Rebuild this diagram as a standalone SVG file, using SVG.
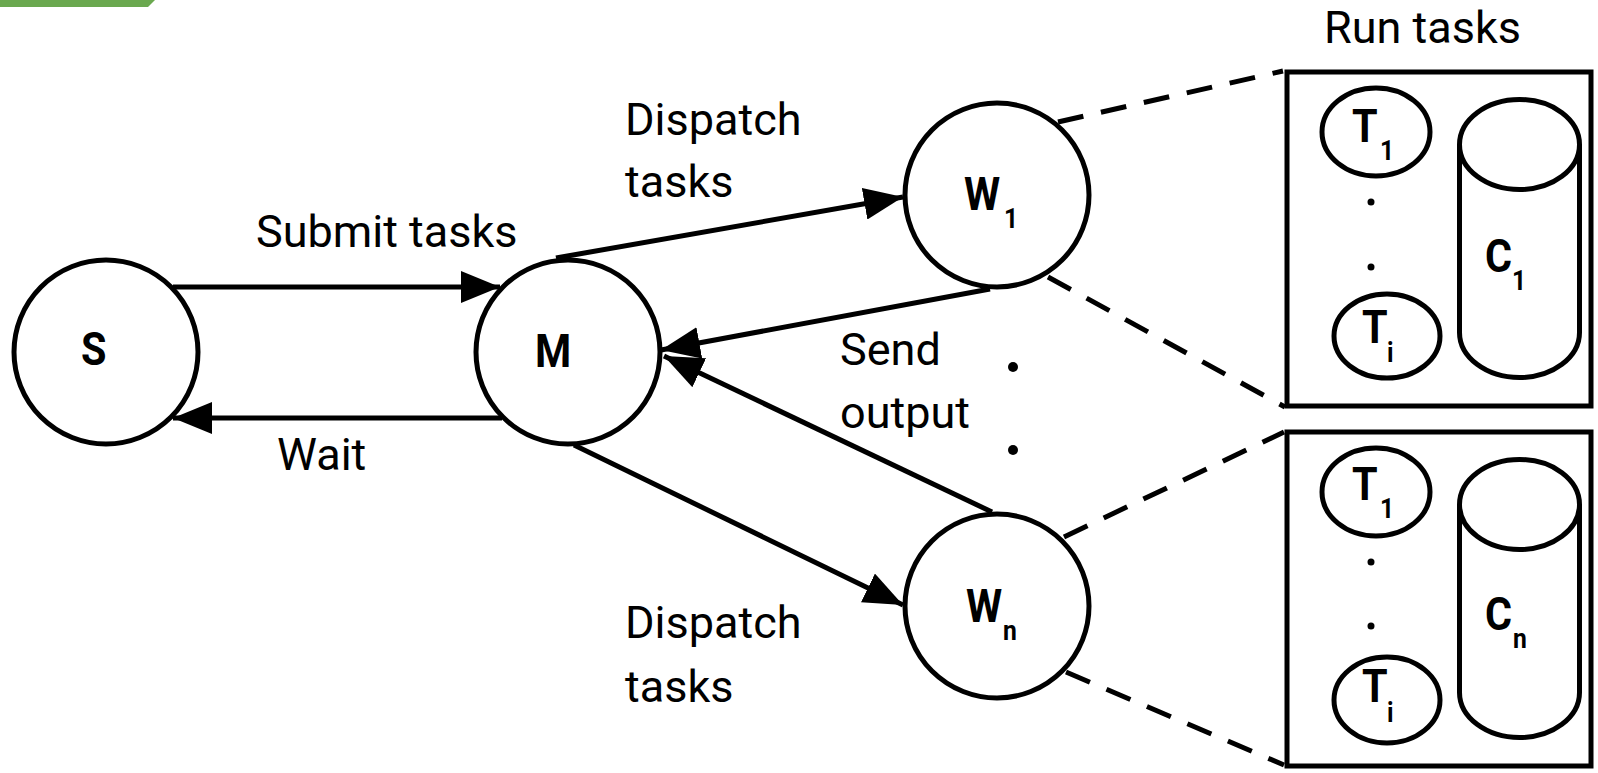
<svg xmlns="http://www.w3.org/2000/svg" width="1598" height="773" viewBox="0 0 1598 773">
<style>
.node{fill:#fff;stroke:#000;stroke-width:5}
.lbl{font-family:Roboto,"Liberation Sans",sans-serif;font-size:45px;fill:#000}
.b{font-family:Roboto,"Liberation Sans",sans-serif;font-weight:bold;font-size:47px;fill:#000}
.sub{font-size:28px}
.conn{stroke:#000;stroke-width:5;fill:none}
.dash{stroke:#000;stroke-width:5;fill:none;stroke-dasharray:26 18}
.dot{fill:#000}
</style>
<defs>
<marker id="ah" markerUnits="userSpaceOnUse" markerWidth="42" markerHeight="32" refX="39" refY="16" orient="auto" viewBox="0 0 42 32">
<path d="M0,0 L39,16 L0,32 z" fill="#000"/>
</marker>
</defs>
<rect width="1598" height="773" fill="#fff"/>
<polygon points="0,0 155,0 148,7 0,7" fill="#6aa84f"/>

<g id="connectors">
<line class="conn" x1="173" y1="287" x2="500" y2="287" marker-end="url(#ah)"/>
<line class="conn" x1="502" y1="418" x2="173" y2="418" marker-end="url(#ah)"/>
<line class="conn" x1="556" y1="258" x2="903" y2="197" marker-end="url(#ah)"/>
<line class="conn" x1="990" y1="289" x2="661" y2="350" marker-end="url(#ah)"/>
<line class="conn" x1="992" y1="512" x2="664" y2="356" marker-end="url(#ah)"/>
<line class="conn" x1="574" y1="445" x2="903" y2="605" marker-end="url(#ah)"/>
<line class="dash" x1="1058" y1="122" x2="1283" y2="71"/>
<line class="dash" x1="1048" y1="277" x2="1285" y2="407"/>
<line class="dash" x1="1064" y1="537" x2="1284" y2="432"/>
<line class="dash" x1="1066" y1="672" x2="1284" y2="765"/>
</g>

<g id="labels">
<text class="lbl" x="256" y="247">Submit tasks</text>
<text class="lbl" x="277" y="470">Wait</text>
<text class="lbl" x="625" y="135">Dispatch</text>
<text class="lbl" x="625" y="197">tasks</text>
<text class="lbl" x="840" y="365">Send</text>
<text class="lbl" x="840" y="428">output</text>
<text class="lbl" x="625" y="638">Dispatch</text>
<text class="lbl" x="625" y="702">tasks</text>
<text class="lbl" x="1324" y="43">Run tasks</text>
<circle class="dot" cx="1013" cy="367" r="5"/>
<circle class="dot" cx="1013" cy="450" r="5"/>
</g>

<g id="S">
<circle class="node" cx="106" cy="352" r="92"/>
<text class="b" transform="translate(81,365) scale(0.88,1)">S</text>
</g>
<g id="M">
<circle class="node" cx="568" cy="352" r="92"/>
<text class="b" transform="translate(535,367) scale(0.88,1)">M</text>
</g>
<g id="W1">
<circle class="node" cx="997" cy="195" r="92"/>
<text class="b" transform="translate(964,210) scale(0.88,1)">W</text>
<text class="b sub" transform="translate(1004,228) scale(0.88,1)">1</text>
</g>
<g id="Wn">
<circle class="node" cx="997" cy="606" r="92"/>
<text class="b" transform="translate(966,622) scale(0.88,1)">W</text>
<text class="b sub" transform="translate(1003,640) scale(0.88,1)">n</text>
</g>

<g id="box1">
<rect class="node" x="1287" y="72" width="304" height="334"/>
<ellipse class="node" cx="1376" cy="132" rx="54" ry="44"/>
<text class="b" transform="translate(1352,142) scale(0.88,1)">T</text>
<text class="b sub" transform="translate(1380,160) scale(0.88,1)">1</text>
<circle class="dot" cx="1371" cy="202" r="3.5"/>
<circle class="dot" cx="1371" cy="267" r="3.5"/>
<ellipse class="node" cx="1387" cy="336" rx="53" ry="42"/>
<text class="b" transform="translate(1362,343) scale(0.88,1)">T</text>
<text class="b sub" transform="translate(1387,362) scale(0.88,1)">i</text>
<path class="node" d="M1459.5,144.5 L1459.5,332.5 A60,45 0 0 0 1579.5,332.5 L1579.5,144.5"/>
<ellipse class="node" cx="1519.5" cy="144.5" rx="60" ry="45"/>
<text class="b" transform="translate(1485,272) scale(0.88,1)">C</text>
<text class="b sub" transform="translate(1512,290) scale(0.88,1)">1</text>
</g>

<g id="box2">
<rect class="node" x="1287" y="432" width="304" height="334"/>
<ellipse class="node" cx="1376" cy="492" rx="54" ry="44"/>
<text class="b" transform="translate(1352,500) scale(0.88,1)">T</text>
<text class="b sub" transform="translate(1380,518) scale(0.88,1)">1</text>
<circle class="dot" cx="1371" cy="562" r="3.5"/>
<circle class="dot" cx="1371" cy="626" r="3.5"/>
<ellipse class="node" cx="1387" cy="700" rx="53" ry="43"/>
<text class="b" transform="translate(1362,702) scale(0.88,1)">T</text>
<text class="b sub" transform="translate(1387,722) scale(0.88,1)">i</text>
<path class="node" d="M1459.5,504.5 L1459.5,692.5 A60,45 0 0 0 1579.5,692.5 L1579.5,504.5"/>
<ellipse class="node" cx="1519.5" cy="504.5" rx="60" ry="45"/>
<text class="b" transform="translate(1485,630) scale(0.88,1)">C</text>
<text class="b sub" transform="translate(1513,648) scale(0.88,1)">n</text>
</g>
</svg>
